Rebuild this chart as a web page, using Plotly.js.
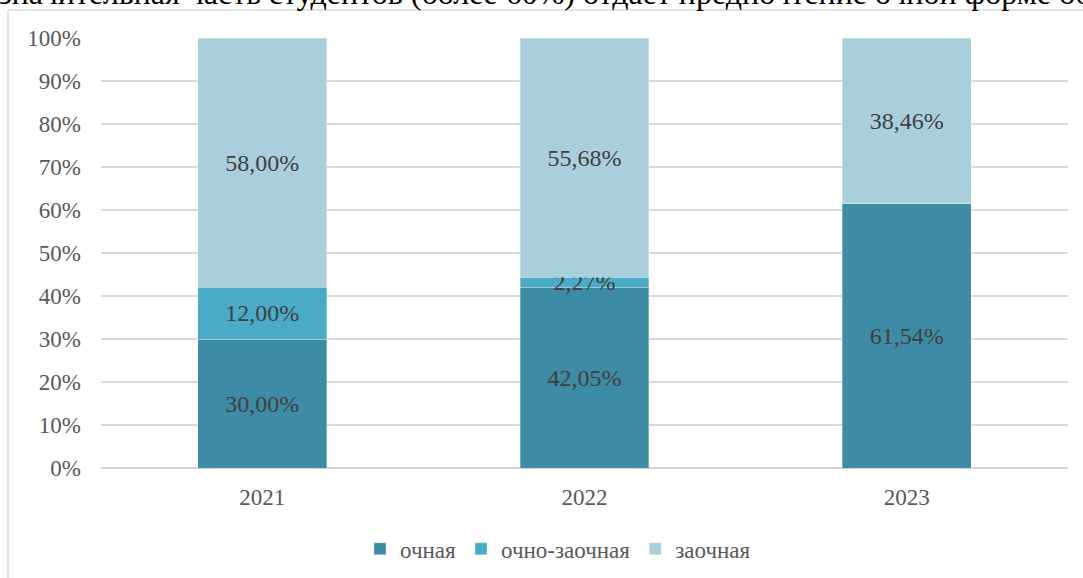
<!DOCTYPE html>
<html>
<head>
<meta charset="utf-8">
<script src="https://cdn.plot.ly/plotly-3.0.1.min.js"></script>
<style>
html,body{margin:0;padding:0;background:#fff;}
#chart{width:1083px;height:578px;}
</style>
</head>
<body>
<div id="chart"></div>
<script>
var years = ['2021', '2022', '2023'];
var seriesNames = ['очная', 'очно-заочная', 'заочная'];
var ochnaya = [30.00, 42.05, 61.54];
var ochnoZaochnaya = [12.00, 2.27, 0];
var zaochnaya = [58.00, 55.68, 38.46];
var colors = ['#3d8ba4', '#4aabc6', '#a9cfdd'];
var yTickVals = [0, 10, 20, 30, 40, 50, 60, 70, 80, 90, 100];
var yTickText = ['0%', '10%', '20%', '30%', '40%', '50%', '60%', '70%', '80%', '90%', '100%'];
var captionText = 'значительная часть студентов (более 60%) отдает предпочтение очной форме обучения';

var serif = 'Liberation Serif';
var seriesValues = [ochnaya, ochnoZaochnaya, zaochnaya];

var traces = seriesNames.map(function (name, i) {
  var vals = seriesValues[i];
  return {
    type: 'bar',
    name: name,
    x: years,
    y: vals,
    text: vals.map(function (v) { return v > 0 ? v.toFixed(2).replace('.', ',') + '%' : ''; }),
    texttemplate: '%{text}',
    textposition: 'inside',
    insidetextanchor: 'middle',
    constraintext: 'none',
    textangle: 0,
    cliponaxis: false,
    textfont: {family: serif, size: 24, color: '#404040'},
    insidetextfont: {family: serif, size: 24, color: '#404040'},
    marker: {color: colors[i], line: {color: 'rgba(255,255,255,0.6)', width: 0.5}},
    hoverinfo: 'skip'
  };
});

var layout = {
  width: 1083,
  height: 578,
  margin: {l: 101, r: 15, t: 38, b: 110, autoexpand: false},
  paper_bgcolor: '#ffffff',
  plot_bgcolor: '#ffffff',
  barmode: 'stack',
  bargap: 0.6,
  separators: ', ',
  showlegend: true,
  font: {family: serif, color: '#595959', size: 23},
  xaxis: {
    type: 'category',
    tickfont: {family: serif, size: 23, color: '#595959'},
    showgrid: false,
    showline: false,
    ticks: '',
    ticklabelstandoff: 13,
    automargin: false,
    fixedrange: true
  },
  yaxis: {
    range: [0, 100],
    tickvals: yTickVals,
    ticktext: yTickText,
    tickfont: {family: serif, size: 23, color: '#595959'},
    showgrid: true,
    gridcolor: '#d9d9d9',
    gridwidth: 1.3,
    zeroline: true,
    zerolinecolor: '#d4d4d4',
    zerolinewidth: 2,
    showline: false,
    ticks: '',
    ticklabelstandoff: 19,
    automargin: false,
    fixedrange: true
  },
  legend: {
    orientation: 'h',
    traceorder: 'normal',
    x: 0.4726,
    xanchor: 'center',
    y: -0.188,
    yanchor: 'middle',
    font: {family: serif, size: 23, color: '#595959'},
    itemclick: false,
    itemdoubleclick: false
  },
  shapes: [
    {type: 'line', xref: 'paper', yref: 'paper', x0: -0.0962, x1: -0.0962, y0: 1.0651, y1: -0.4, line: {color: '#d9d9d9', width: 1.5}},
    {type: 'line', xref: 'paper', yref: 'paper', x0: -0.0962, x1: 1.1, y0: 1.0651, y1: 1.0651, line: {color: '#d9d9d9', width: 1.5}}
  ],
  annotations: [
    {
      xref: 'paper', yref: 'paper',
      x: -0.1076, y: 1.105,
      xanchor: 'left', yanchor: 'middle',
      showarrow: false,
      text: captionText,
      font: {family: serif, size: 32, color: '#000000'}
    }
  ]
};

Plotly.newPlot('chart', traces, layout, {displayModeBar: false, staticPlot: true});
</script>
</body>
</html>
